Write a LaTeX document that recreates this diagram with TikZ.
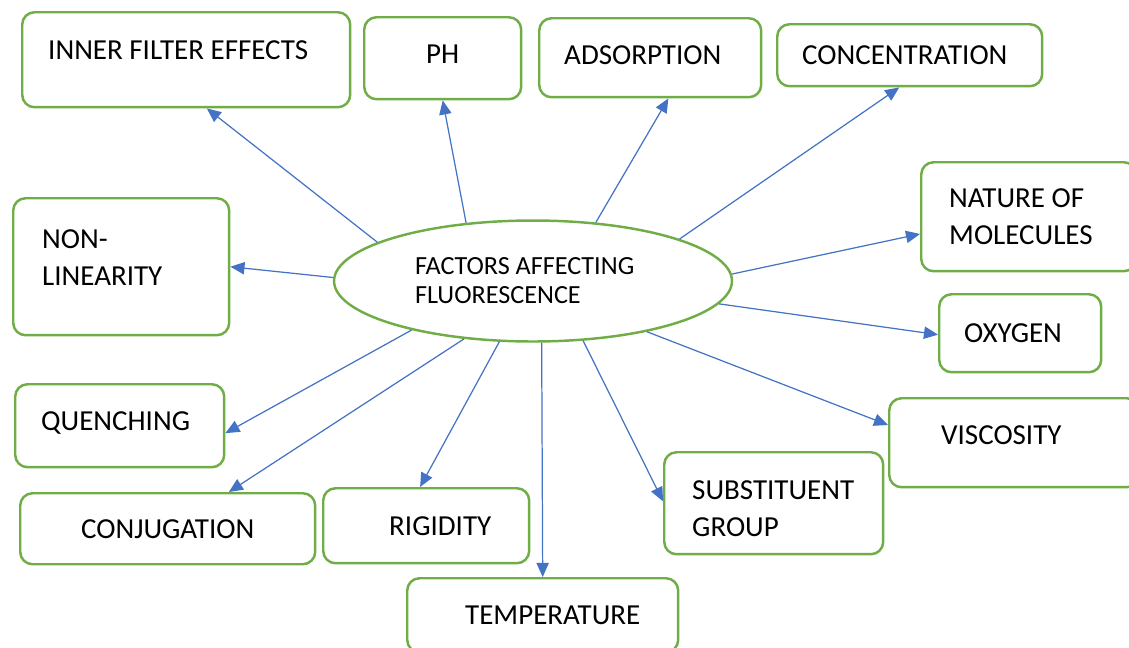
\documentclass[tikz,border=0pt]{standalone}
\usepackage{fontspec}
\setmainfont{Carlito}
\usetikzlibrary{shapes.geometric,arrows.meta}
\definecolor{boxgreen}{HTML}{70AD47}
\definecolor{arrowblue}{HTML}{4472C4}
\uchyph=0

\begin{document}
\begin{tikzpicture}[x=0.02cm,y=-0.02cm,
  factor/.style={draw=boxgreen,line width=1.4pt,rounded corners=7pt,anchor=north west,
    inner sep=0pt,align=flush left,font=\fontsize{16.5}{21}\selectfont},
  centre/.style={ellipse,draw=boxgreen,line width=1.4pt,inner sep=0pt,minimum width=7.96cm,
    minimum height=2.42cm,text width=4.72cm,align=flush left,font=\fontsize{14.9}{16.5}\selectfont},
  link/.style={draw=arrowblue,line width=0.7pt,-{Triangle[length=8pt,width=7pt]}}]
\useasboundingbox (0,0) rectangle (1129,647);
\clip (0,0) rectangle (1129,647);

\node[centre] (fac) at (533,281) {FACTORS AFFECTING\\FLUORESCENCE};

% top row
\node[factor,minimum width=6.56cm,minimum height=1.90cm,text width=5.52cm,text depth=0.38cm] (inner) at (21,11) {INNER FILTER EFFECTS};
\node[factor,minimum width=3.14cm,minimum height=1.64cm,text depth=0.18cm] (ph) at (363,16) {PH};
\node[factor,minimum width=4.44cm,minimum height=1.58cm,text width=3.44cm,text depth=0.1cm] (adsorption) at (538,17) {ADSORPTION};
\node[factor,minimum width=5.30cm,minimum height=1.24cm,text width=4.30cm] (conc) at (776,23) {CONCENTRATION};

% sides
\node[factor,minimum width=4.30cm,minimum height=2.18cm,text width=3.18cm] (nature) at (920,161) {NATURE OF\\MOLECULES};
\node[factor,minimum width=4.32cm,minimum height=2.74cm,text width=3.16cm,text depth=1.10cm] (nonlin) at (12,197) {NON-\\LINEARITY};
\node[factor,minimum width=3.24cm,minimum height=1.56cm,text width=2.24cm] (oxygen) at (938,293) {OXYGEN};
\node[factor,minimum width=4.18cm,minimum height=1.66cm,text width=3.14cm,text depth=0.18cm] (quench) at (14,383) {QUENCHING};
\node[factor,minimum width=5.00cm,minimum height=1.78cm,text width=2.92cm,text depth=0.32cm] (visc) at (888,397) {VISCOSITY};

% bottom row
\node[factor,minimum width=5.90cm,minimum height=1.42cm] (conj) at (19,492) {CONJUGATION};
\node[factor,minimum width=4.12cm,minimum height=1.50cm,text width=1.48cm] (rigid) at (322,487) {RIGIDITY};
\node[factor,minimum width=4.38cm,minimum height=2.04cm,text width=3.26cm,text height=0.59cm] (subst) at (663,451) {SUBSTITUENT\\GROUP};
\node[factor,minimum width=5.42cm,minimum height=1.48cm,text width=3.10cm] (temp) at (406,577) {TEMPERATURE};

\foreach \from/\to in {166/inner.-67, 139/ph.south, 43/adsorption.-66, 16/conc.-108,
    2/nature.189, 179/nonlin.east, -7.5/oxygen.181, -24/visc.172, -50/subst.179,
    -82.5/temp.north, -119/rigid.99, -140/conj.31, -158/quench.-4}
  \draw[link] (fac.\from) -- (\to);
\end{tikzpicture}
\end{document}
